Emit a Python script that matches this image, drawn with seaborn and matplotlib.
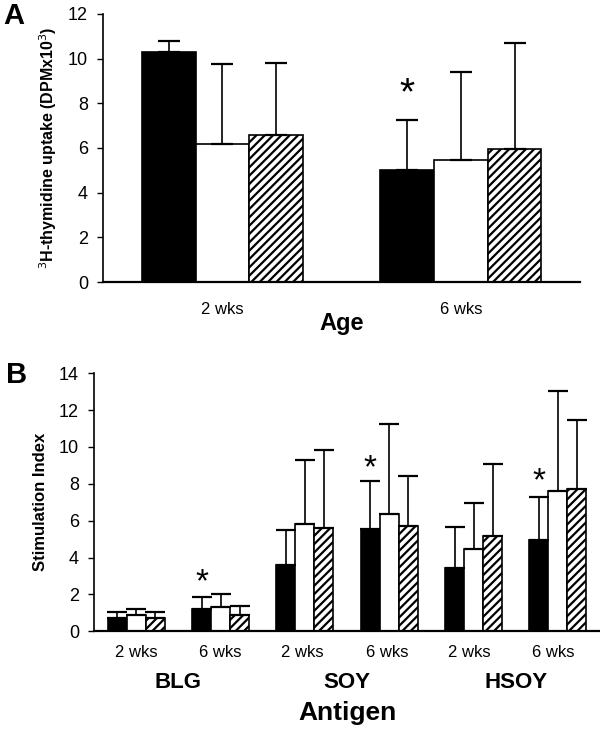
import seaborn as sns
import matplotlib.pyplot as plt
import pandas as pd

# panel A: 3H-thymidine uptake by age
age_labels = ["2 wks", "6 wks"]
groups = ["Group 1", "Group 2", "Group 3"]
a_means = {"Group 1": [10.3, 5.0], "Group 2": [6.2, 5.45], "Group 3": [6.6, 5.95]}
a_tops = {"Group 1": [10.8, 7.25], "Group 2": [9.75, 9.4], "Group 3": [9.8, 10.7]}
a_star_y = [None, 8.4]

# panel B: stimulation index by antigen
antigens = ["BLG", "SOY", "HSOY"]
b_labels = ["2 wks", "6 wks", "2 wks ", "6 wks ", "2 wks  ", "6 wks  "]
b_means = {
    "Group 1": [0.71, 1.2, 3.6, 5.55, 3.44, 4.98],
    "Group 2": [0.89, 1.32, 5.82, 6.38, 4.48, 7.63],
    "Group 3": [0.71, 0.9, 5.62, 5.69, 5.18, 7.72],
}
b_tops = {
    "Group 1": [1.07, 1.88, 5.51, 8.14, 5.67, 7.27],
    "Group 2": [1.23, 2.01, 9.32, 11.22, 6.98, 13.01],
    "Group 3": [1.05, 1.36, 9.81, 8.45, 9.08, 11.49],
}
b_star_y = [None, 2.65, None, 8.8, None, 8.1]

plt.rcParams['font.family'] = ['Liberation Sans', 'DejaVu Sans']
plt.rcParams['hatch.linewidth'] = 1.6
palette = ["black", "white", "white"]


def make_frame(labels, means):
    rows = []
    for g in groups:
        for lab, v in zip(labels, means[g]):
            rows.append({"cat": lab, "group": g, "value": v})
    return pd.DataFrame(rows)


def draw_panel(ax, labels, means, tops, stars, capsize, star_size, xpad):
    df = make_frame(labels, means)
    sns.barplot(data=df, x="cat", y="value", hue="group", palette=palette,
                edgecolor="black", linewidth=1.2, width=0.675, gap=0,
                errorbar=None, legend=False, ax=ax, saturation=1)
    bar_sets = list(ax.containers)
    for gi, cont in enumerate(bar_sets):
        g = groups[gi]
        xs, ys, up = [], [], []
        for bar, top in zip(cont.patches, tops[g]):
            if gi == 2:
                bar.set_hatch("////")
            xs.append(bar.get_x() + bar.get_width() / 2)
            ys.append(bar.get_height())
            up.append(top - bar.get_height())
        ax.errorbar(xs, ys, yerr=[[0] * len(xs), up], fmt="none",
                    ecolor="black", elinewidth=1.2, capsize=capsize,
                    capthick=1.6, zorder=1)
    # significance markers above the black bars
    for bar, sy in zip(bar_sets[0].patches, stars):
        if sy is not None:
            ax.text(bar.get_x() + bar.get_width() / 2, sy, "*",
                    ha="center", va="center", fontsize=star_size)
    sns.despine(ax=ax)
    ax.tick_params(axis="x", length=0, labelsize=12, pad=xpad)
    ax.tick_params(axis="y", labelsize=13, length=4, width=1, pad=7)
    ax.spines["left"].set_linewidth(1.2)
    ax.spines["bottom"].set_linewidth(1.6)


fig = plt.figure(figsize=(6, 7.29), dpi=100)

# panel A
ax1 = fig.add_axes([0.172, 0.613, 0.795, 0.368])
draw_panel(ax1, age_labels, a_means, a_tops, a_star_y, 8, 28, 14)
ax1.set_ylim(0, 12)
ax1.set_xlim(-0.5, 1.5)
ax1.set_yticks(range(0, 13, 2))
ax1.set_xlabel("Age", fontsize=17, fontweight="bold", labelpad=-3)
ax1.set_ylabel("$^{3}$H-thymidine uptake (DPMx10$^{3}$)", fontsize=11.5,
               fontweight="bold", labelpad=6)
fig.text(0.005, 0.997, "A", fontsize=21, fontweight="bold", va="top")

# panel B
ax2 = fig.add_axes([0.157, 0.134, 0.843, 0.354])
draw_panel(ax2, b_labels, b_means, b_tops, b_star_y, 7, 24, 10)
ax2.set_ylim(0, 14)
ax2.set_xlim(-0.5, 5.5)
ax2.set_yticks(range(0, 15, 2))
ax2.set_xlabel("")
ax2.set_ylabel("Stimulation Index", fontsize=12, fontweight="bold",
               labelpad=8)
for i, name in enumerate(antigens):
    ax2.text(2 * i + 0.5, -0.198, name, transform=ax2.get_xaxis_transform(),
             ha="center", va="center", fontsize=16, fontweight="bold")
ax2.text(2.5, -0.318, "Antigen", transform=ax2.get_xaxis_transform(),
         ha="center", va="center", fontsize=19, fontweight="bold")
fig.text(0.01, 0.486, "B", fontsize=21, fontweight="bold", va="center")

plt.savefig("out.png", dpi=100)
